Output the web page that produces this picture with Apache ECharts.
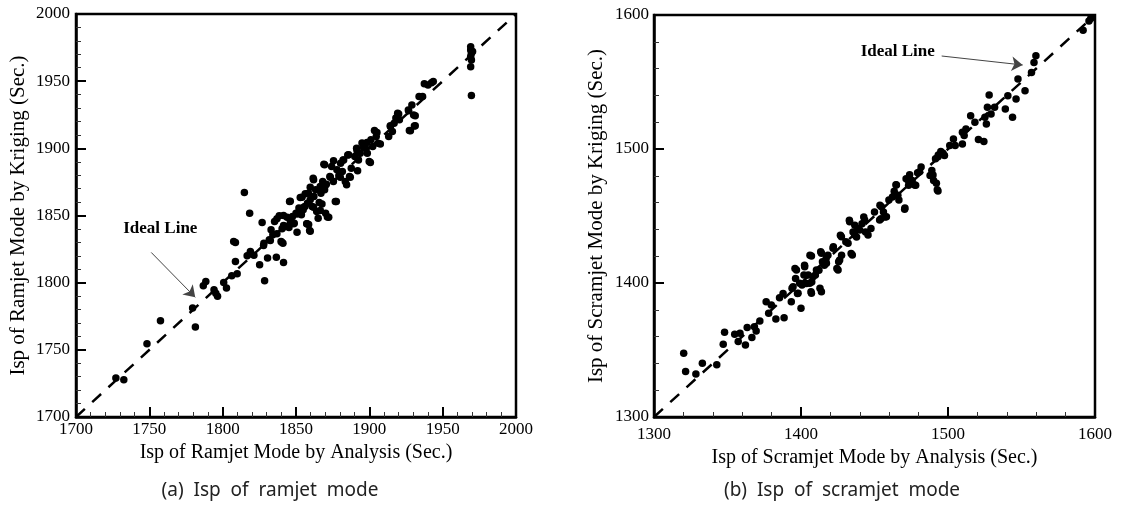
<!DOCTYPE html>
<html>
<head>
<meta charset="utf-8">
<script src="https://cdn.jsdelivr.net/npm/echarts@6/dist/echarts.min.js"></script>
<style>
  html, body { margin: 0; padding: 0; background: #fff; }
  #chart { width: 1122px; height: 511px; }
</style>
</head>
<body>
<div id="chart"></div>
<script>
// (a) ramjet mode: analysis vs kriging
const ramjetAnalysis = [1727.2, 1732.6, 1748.4, 1757.6, 1779.5, 1781.4, 1786.8, 1788.5, 1794.1, 1795.3, 1796.5, 1800.7, 1802.6, 1806.2, 1807.5, 1808.7, 1808.7, 1809.9, 1814.8, 1818.4, 1816.7, 1818.9, 1821.3, 1825.2, 1826.9, 1828.1, 1828.6, 1830.6, 1831.8, 1833.0, 1834.2, 1835.4, 1836.6, 1838.6, 1839.8, 1841.5, 1840.3, 1842.7, 1845.2, 1845.6, 1846.4, 1847.6, 1848.8, 1850.0, 1852.0, 1852.9, 1853.7, 1854.9, 1856.1, 1857.3, 1857.8, 1858.5, 1859.3, 1859.7, 1861.0, 1861.7, 1862.2, 1863.4, 1864.1, 1865.1, 1865.8, 1866.5, 1867.0, 1868.2, 1869.0, 1869.5, 1870.2, 1871.4, 1870.7, 1873.1, 1874.3, 1875.5, 1876.8, 1877.9, 1879.2, 1880.4, 1881.6, 1882.1, 1883.6, 1884.5, 1885.3, 1886.5, 1887.7, 1890.1, 1891.3, 1892.6, 1893.8, 1895.0, 1897.4, 1898.6, 1899.9, 1901.1, 1902.3, 1903.5, 1904.7, 1906.0, 1913.2, 1914.4, 1915.7, 1916.9, 1918.1, 1919.3, 1920.5, 1926.6, 1927.3, 1929.0, 1930.2, 1930.7, 1933.9, 1936.3, 1937.5, 1940.0, 1942.4, 1943.6, 1969.1, 1969.1, 1969.6, 1969.1, 1969.6, 1969.1, 1969.6, 1970.4,
  1841.1, 1859.7, 1858.6, 1846.1, 1862.0, 1869.5, 1875.6, 1877.5, 1885.9, 1882.5, 1892.0, 1900.7, 1905.2, 1907.5, 1914.3, 1920.0, 1928.0, 1931.3, 1926.8, 1931.3, 1866.6, 1872.3, 1862.0, 1867.7, 1852.9, 1843.9, 1848.4, 1840.5, 1854.1, 1856.3, 1859.7, 1868.8, 1873.4, 1880.2, 1887.0, 1891.6, 1896.1, 1898.4,
  1850.7, 1855.2, 1846.1, 1841.5, 1837.0, 1832.5, 1827.9, 1818.8, 1841.5, 1837.0, 1850.7, 1857.5];
const ramjetKriging = [1729.0, 1727.8, 1754.5, 1771.7, 1781.1, 1767.0, 1797.7, 1800.9, 1794.7, 1792.2, 1789.8, 1800.2, 1796.0, 1805.1, 1830.7, 1829.9, 1815.8, 1806.6, 1867.1, 1851.7, 1820.0, 1823.2, 1820.5, 1813.3, 1844.8, 1829.4, 1801.4, 1818.3, 1831.9, 1839.4, 1835.6, 1845.5, 1819.0, 1849.8, 1830.7, 1815.1, 1830.0, 1841.8, 1841.1, 1860.4, 1846.8, 1849.3, 1844.3, 1851.7, 1855.5, 1863.4, 1850.5, 1854.2, 1856.7, 1843.8, 1859.2, 1866.6, 1838.9, 1861.7, 1856.7, 1877.8, 1864.1, 1869.1, 1853.0, 1848.0, 1859.7, 1871.6, 1866.6, 1875.3, 1888.2, 1869.1, 1851.7, 1848.8, 1873.3, 1879.0, 1886.5, 1875.3, 1860.4, 1884.0, 1879.5, 1888.9, 1882.7, 1891.4, 1875.3, 1872.8, 1895.1, 1879.0, 1885.2, 1893.9, 1900.1, 1891.4, 1896.4, 1904.0, 1900.1, 1896.4, 1890.2, 1906.3, 1901.3, 1913.2, 1908.8, 1903.8, 1908.8, 1916.2, 1912.5, 1918.7, 1922.6, 1926.1, 1921.2, 1928.6, 1913.2, 1932.3, 1924.9, 1916.7, 1938.5, 1938.5, 1948.0, 1947.2, 1948.9, 1949.7, 1975.7, 1973.2, 1970.8, 1968.3, 1965.8, 1960.8, 1939.3, 1972.0,
  1829.4, 1838.3, 1843.3, 1860.6, 1876.7, 1887.8, 1890.8, 1860.4, 1895.2, 1891.3, 1883.4, 1889.5, 1911.8, 1903.2, 1916.8, 1925.5, 1913.1, 1916.8, 1927.9, 1924.2, 1853.7, 1848.7, 1856.1, 1858.6, 1853.7, 1848.7, 1843.8, 1840.1, 1863.5, 1866.1, 1871.0, 1871.0, 1878.4, 1878.4, 1878.4, 1898.2, 1900.7, 1904.4,
  1851.2, 1856.1, 1846.3, 1842.6, 1836.4, 1831.4, 1827.7, 1821.5, 1850.0, 1847.5, 1837.6, 1843.8];

// (b) scramjet mode: analysis vs kriging
const scramjetAnalysis = [1320.2, 1321.5, 1328.5, 1332.9, 1342.7, 1347.1, 1348.0, 1354.9, 1357.3, 1358.5, 1362.2, 1363.4, 1366.6, 1368.3, 1369.5, 1372.0, 1376.3, 1378.0, 1379.8, 1382.9, 1385.4, 1388.5, 1387.8, 1393.4, 1393.9, 1395.9, 1396.3, 1397.6, 1400.0, 1400.7, 1402.0, 1402.4, 1403.7, 1404.9, 1406.1, 1406.8, 1407.3, 1409.8, 1412.2, 1412.9, 1413.4, 1414.6, 1415.9, 1417.1, 1418.3, 1422.0, 1424.4, 1425.6, 1427.6, 1426.8, 1430.5, 1432.9, 1434.1, 1435.4, 1436.6, 1437.8, 1439.0, 1441.5, 1442.7, 1443.9, 1447.6, 1450.0, 1453.7, 1454.4, 1456.1, 1457.3, 1459.8, 1462.2, 1463.4, 1464.6, 1465.9, 1466.6, 1470.7, 1471.5, 1473.9, 1473.2, 1475.6, 1478.0, 1479.3, 1481.7, 1487.8, 1489.0, 1490.2, 1491.5, 1492.7, 1493.4, 1495.1, 1497.6, 1501.2, 1503.7, 1504.9, 1509.8, 1509.8, 1511.0, 1512.2, 1515.4, 1518.3, 1520.7, 1524.4, 1525.1, 1526.1, 1526.8, 1528.0, 1529.3, 1531.7, 1539.0, 1540.7, 1543.9, 1546.3, 1547.6, 1552.4, 1556.8, 1558.5, 1559.8, 1591.9, 1595.9, 1597.1,
  1493.2, 1496.6, 1489.8, 1492.1, 1493.2, 1480.7, 1472.8, 1477.3, 1464.9, 1463.7, 1470.5, 1454.7, 1458.1, 1453.5, 1443.3, 1439.9, 1436.5, 1445.6, 1433.1, 1427.5, 1432.0, 1421.8, 1426.3, 1434.9, 1413.9, 1407.1, 1417.3, 1402.5, 1408.2, 1396.9, 1399.1, 1405.9, 1394.6, 1398.0, 1407.1, 1413.9, 1425.2, 1410.5];
const scramjetKriging = [1347.6, 1334.0, 1332.0, 1340.2, 1338.9, 1354.3, 1363.2, 1361.7, 1356.3, 1362.5, 1353.8, 1366.7, 1359.3, 1367.4, 1364.2, 1371.7, 1386.0, 1377.4, 1383.6, 1373.1, 1389.0, 1374.1, 1392.2, 1386.0, 1396.0, 1410.8, 1403.4, 1392.2, 1381.1, 1398.5, 1405.9, 1413.3, 1399.7, 1405.9, 1420.8, 1393.5, 1400.7, 1405.9, 1409.6, 1396.0, 1423.3, 1415.8, 1413.3, 1418.3, 1420.8, 1427.0, 1410.8, 1415.8, 1420.8, 1435.6, 1430.7, 1446.8, 1422.0, 1438.1, 1443.1, 1434.4, 1440.6, 1444.3, 1449.3, 1438.1, 1440.6, 1453.0, 1458.0, 1448.0, 1453.0, 1449.3, 1461.9, 1464.1, 1468.4, 1473.3, 1465.4, 1461.9, 1456.0, 1477.8, 1480.8, 1472.9, 1476.5, 1472.9, 1482.2, 1486.5, 1480.3, 1484.0, 1476.5, 1492.7, 1469.6, 1495.6, 1498.1, 1495.1, 1502.6, 1507.5, 1502.6, 1512.5, 1503.8, 1510.0, 1515.0, 1524.9, 1520.0, 1507.0, 1505.6, 1523.7, 1518.7, 1531.1, 1540.3, 1526.2, 1531.1, 1529.9, 1539.8, 1523.7, 1537.3, 1552.2, 1543.5, 1557.1, 1564.6, 1569.5, 1588.6, 1595.5, 1597.3,
  1494.3, 1496.8, 1480.6, 1474.4, 1468.7, 1483.1, 1476.9, 1473.1, 1473.1, 1465.7, 1455.0, 1456.9, 1449.5, 1447.0, 1447.0, 1439.6, 1435.8, 1435.8, 1445.7, 1434.6, 1429.6, 1425.9, 1417.2, 1420.9, 1422.2, 1420.1, 1414.7, 1412.2, 1404.7, 1409.7, 1399.8, 1399.8, 1397.2, 1392.3, 1392.3, 1393.5, 1409.7, 1409.7];

// axis ranges [min, max, major step, minor splits]
const ramjetAxis = [1700, 2000, 50, 5];
const scramjetAxis = [1300, 1600, 100, 5];

// annotation arrows: [text pos, arrow start, arrow end]
const ramjetNote = [[1757.5, 1840.3], [1751.3, 1822.5], [1781.3, 1789.1]];
const scramjetNote = [[1465.8, 1572.4], [1495.7, 1569.4], [1550.8, 1562.7]];

const zip = (a, b) => a.map((v, i) => [v, b[i]]);

const serif = '"Liberation Serif", "Times New Roman", serif';

const makeAxis = (grid, range, name, isY, labelMargin, nameGap) => ({
  gridIndex: grid,
  type: 'value',
  min: range[0],
  max: range[1],
  interval: range[2],
  name: name,
  nameLocation: 'middle',
  nameGap: nameGap,
  nameTextStyle: { color: '#000', fontFamily: serif, fontSize: isY ? 21 : 20 },
  axisLine: { show: true, onZero: false, lineStyle: { color: '#000', width: 2.5 } },
  axisTick: { show: true, inside: true, length: 10, lineStyle: { color: '#000', width: 2 } },
  minorTick: { show: true, splitNumber: range[3], length: 5, lineStyle: { color: '#333', width: 1 } },
  splitLine: { show: false },
  minorSplitLine: { show: false },
  axisLabel: {
    color: '#000',
    fontFamily: serif,
    fontSize: 17,
    margin: labelMargin,
    showMinLabel: true,
    showMaxLabel: true,
    formatter: v => String(v)
  }
})

const idealLine = (grid, range, note) => ({
  type: 'line',
  xAxisIndex: grid,
  yAxisIndex: grid,
  data: [[range[0], range[0]], [range[1], range[1]]],
  symbol: 'none',
  silent: true,
  z: 1,
  lineStyle: { color: '#000', width: 2.5, type: [12, 10] },
  markLine: {
    silent: true,
    symbol: ['none', 'arrow'],
    symbolSize: 11,
    label: { show: false },
    lineStyle: { color: '#444', width: 1, type: 'solid' },
    data: [[{ coord: note[1] }, { coord: note[2] }]]
  },
  markPoint: {
    silent: true,
    symbol: 'rect',
    symbolSize: 1,
    itemStyle: { color: 'rgba(0,0,0,0)' },
    label: {
      show: true,
      position: 'inside',
      formatter: 'Ideal Line',
      color: '#000',
      fontFamily: serif,
      fontWeight: 'bold',
      fontSize: 17
    },
    data: [{ coord: note[0] }]
  }
})

const dots = (grid, xs, ys) => ({
  type: 'scatter',
  xAxisIndex: grid,
  yAxisIndex: grid,
  data: zip(xs, ys),
  symbolSize: 7.5,
  itemStyle: { color: '#000', opacity: 1 },
  z: 3
})

const chart = echarts.init(document.getElementById('chart'))
chart.setOption({
  backgroundColor: '#fff',
  animation: false,
  grid: [
    { left: 76, top: 14, width: 440, height: 403, show: true, borderColor: '#000', borderWidth: 2.5, outerBoundsMode: 'none' },
    { left: 654, top: 15, width: 441, height: 402, show: true, borderColor: '#000', borderWidth: 2.5, outerBoundsMode: 'none' }
  ],
  xAxis: [
    makeAxis(0, ramjetAxis, 'Isp of Ramjet Mode by Analysis (Sec.)', false, 4, 24),
    makeAxis(1, scramjetAxis, 'Isp of Scramjet Mode by Analysis (Sec.)', false, 9, 26)
  ],
  yAxis: [
    makeAxis(0, ramjetAxis, 'Isp of Ramjet Mode by Kriging (Sec.)', true, 6, 47),
    makeAxis(1, scramjetAxis, 'Isp of Scramjet Mode by Kriging (Sec.)', true, 5, 47)
  ],
  graphic: [
    { type: 'text', x: 270, y: 491, style: { text: '(a)  Isp  of  ramjet  mode', font: '19px "Noto Sans"', fill: '#222', align: 'center', verticalAlign: 'middle' } },
    { type: 'text', x: 842, y: 491, style: { text: '(b)  Isp  of  scramjet  mode', font: '19px "Noto Sans"', fill: '#222', align: 'center', verticalAlign: 'middle' } }
  ],
  series: [
    idealLine(0, ramjetAxis, ramjetNote),
    dots(0, ramjetAnalysis, ramjetKriging),
    idealLine(1, scramjetAxis, scramjetNote),
    dots(1, scramjetAnalysis, scramjetKriging)
  ]
})
</script>
</body>
</html>
